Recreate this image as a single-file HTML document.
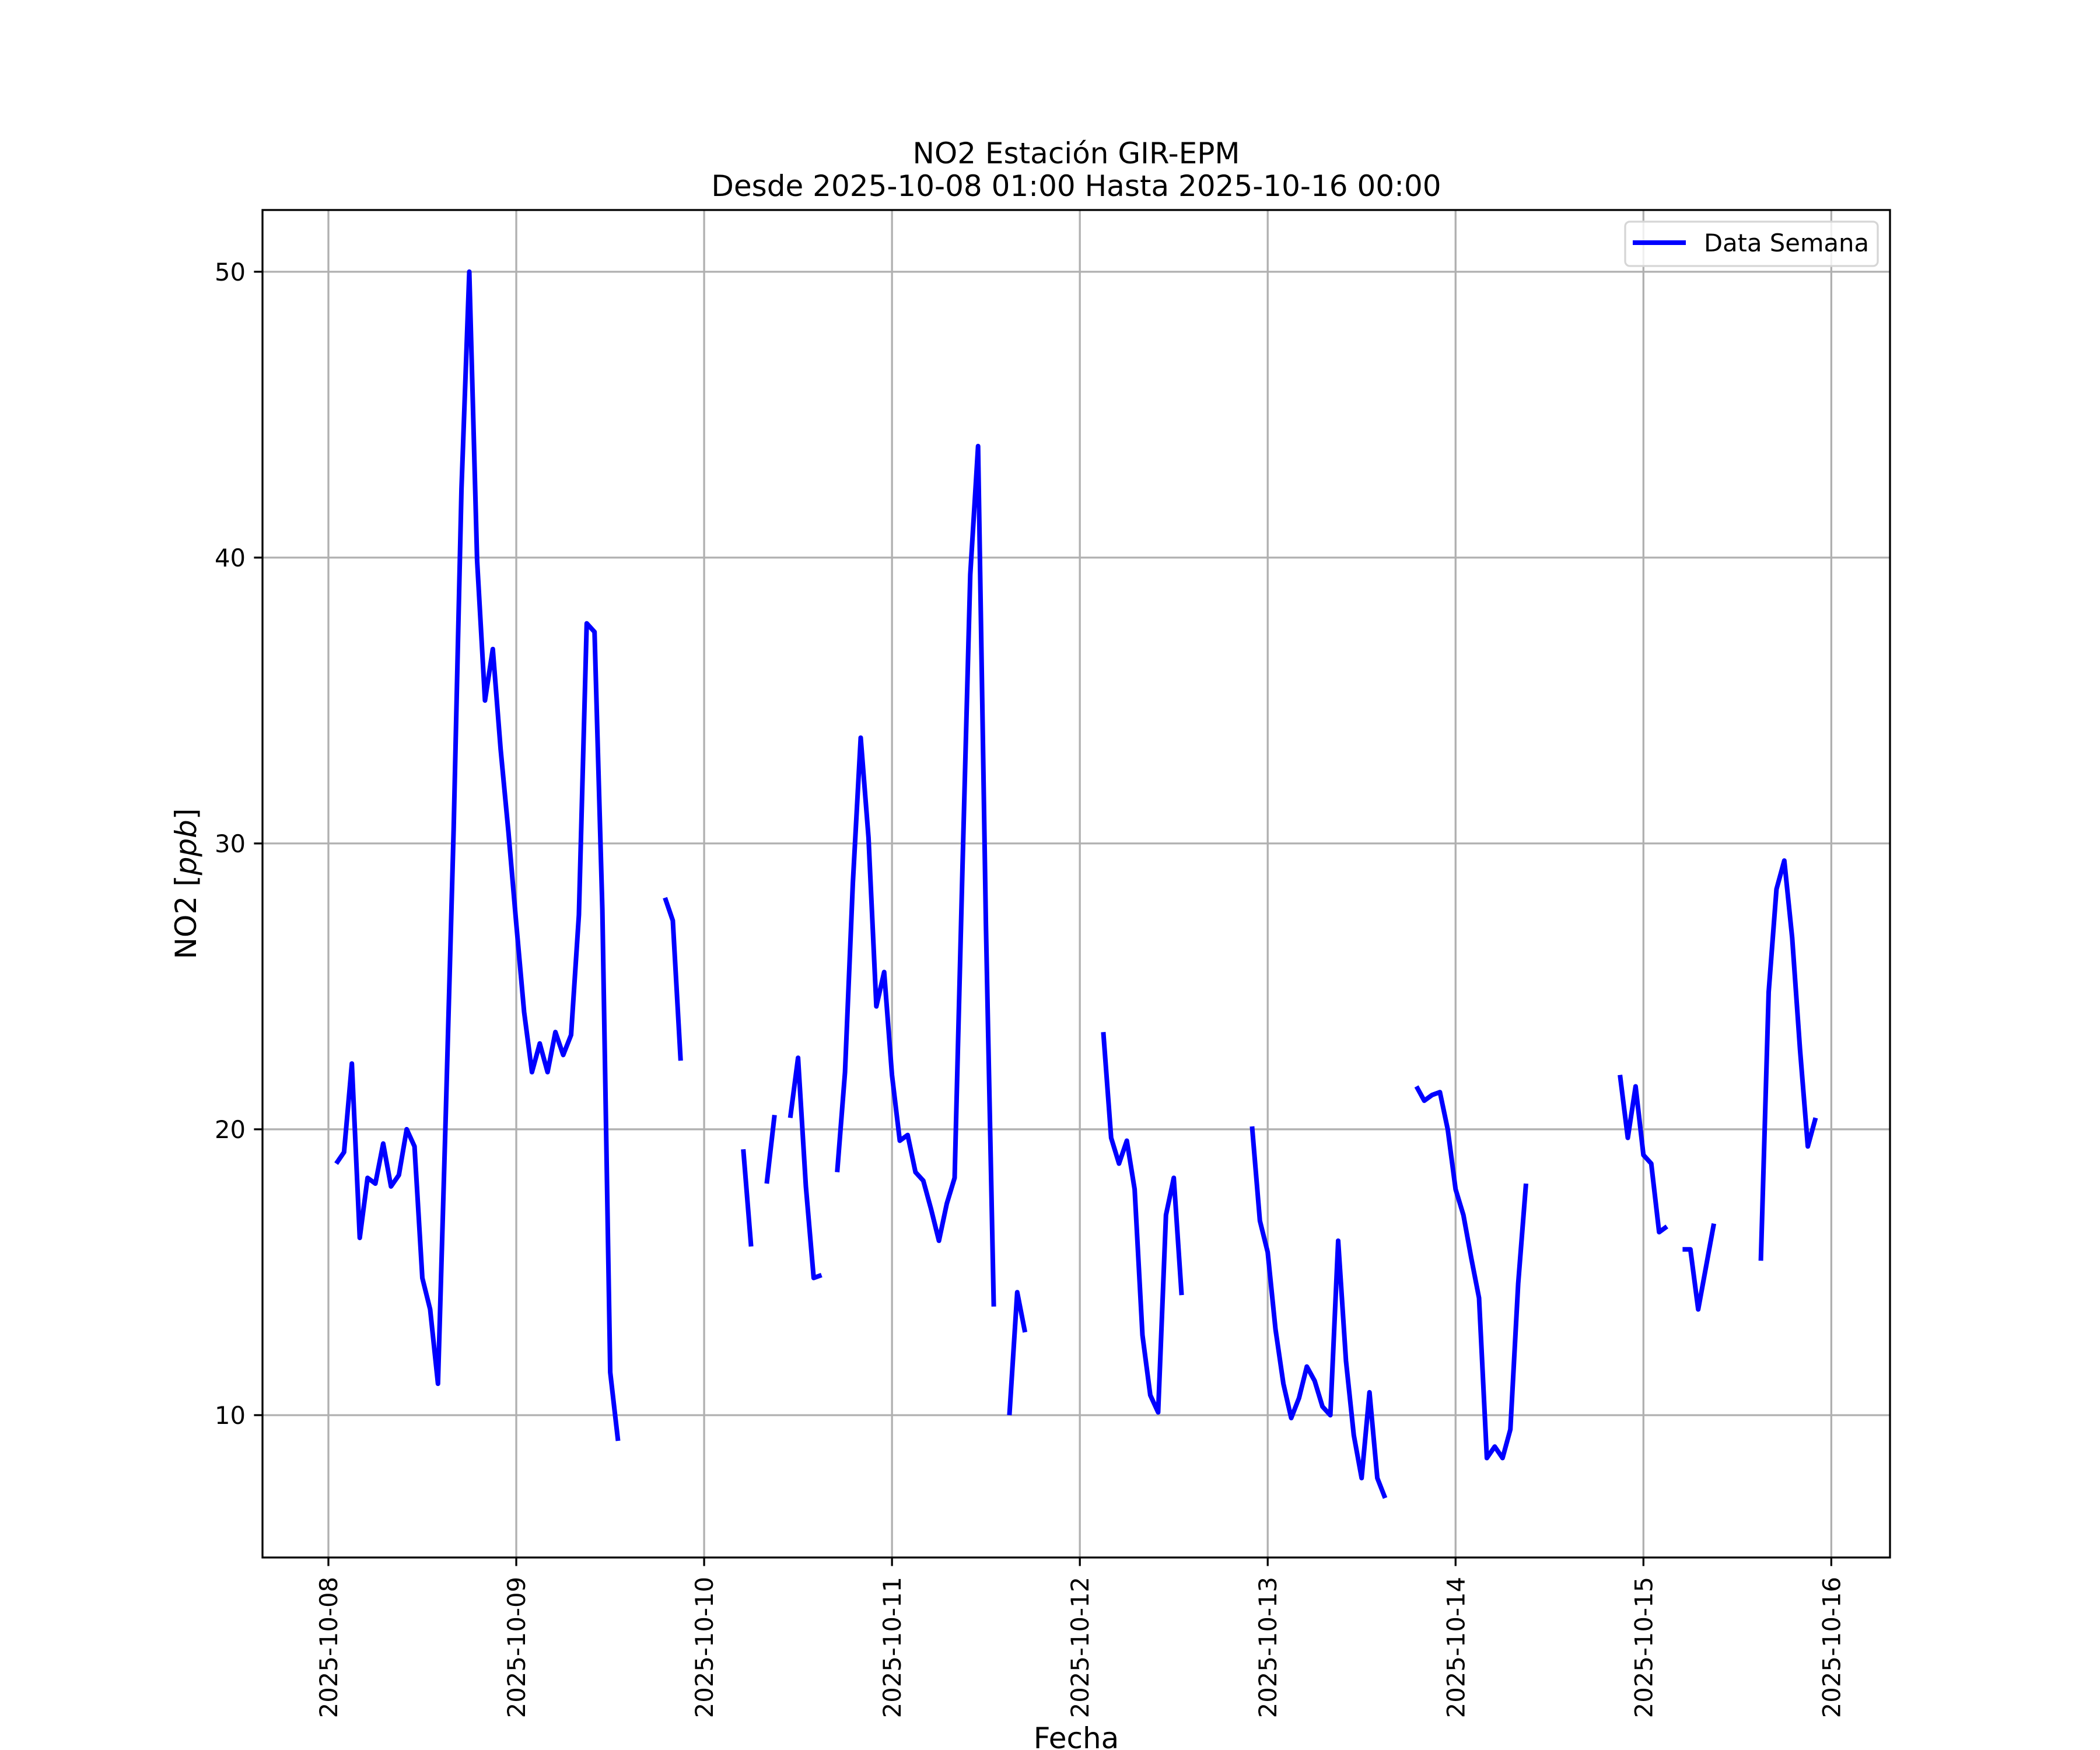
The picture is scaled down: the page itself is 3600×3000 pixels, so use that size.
<!DOCTYPE html>
<html><head><meta charset="utf-8"><style>
html,body{margin:0;padding:0;background:#fff}
svg{display:block}
text{font-family:"DejaVu Sans","Liberation Sans",sans-serif;fill:#000}
</style></head><body>
<svg id="chart" width="3600" height="3000" xmlns="http://www.w3.org/2000/svg">
<rect width="3600" height="3000" fill="#fff"/>
<g id="grid"></g><g id="series"></g><g id="axes"></g>
<text x="1845" y="280" font-size="50" text-anchor="middle">NO2 Estación GIR-EPM</text>
<text x="1845" y="336" font-size="50" text-anchor="middle">Desde 2025-10-08 01:00 Hasta 2025-10-16 00:00</text>
<text x="1845" y="2997" font-size="50" text-anchor="middle">Fecha</text>
<text transform="translate(336,1515) rotate(-90)" font-size="50" text-anchor="middle">NO2 [<tspan font-style="italic">ppb</tspan>]</text>
<g>
<rect x="2786" y="380" width="433" height="76" rx="8" fill="#fff" fill-opacity="0.8" stroke="#d6d6d6" stroke-width="3.3"/>
<line x1="2799" y1="416" x2="2890" y2="416" stroke="#0000ff" stroke-width="8"/>
<text x="2921" y="431" font-size="41.7">Data Semana</text>
</g>
</svg>
<script>
// hours since 2025-10-08 00:00 for first value
const startHour = 1;
const values = [18.8,19.2,22.3,16.2,18.3,18.1,19.5,18.0,18.4,20.0,19.4,14.8,13.7,11.1,20.6,30.5,42.4,50.0,39.9,35.0,36.8,33.3,30.4,27.2,
24.1,22.0,23.0,22.0,23.4,22.6,23.3,27.5,37.7,37.4,27.7,11.5,9.1,null,null,null,null,null,28.1,27.3,22.4,null,null,null,
null,null,null,null,19.3,15.9,null,18.1,20.5,null,20.4,22.5,18.0,14.8,14.9,null,18.5,22.0,28.6,33.7,30.2,24.3,25.5,21.9,
19.6,19.8,18.5,18.2,17.2,16.1,17.4,18.3,29.1,39.4,43.9,27.2,13.8,null,10.0,14.3,12.9,null,null,null,null,null,null,null,
null,null,23.4,19.7,18.8,19.6,17.9,12.8,10.7,10.1,17.0,18.3,14.2,null,null,null,null,null,null,null,null,20.1,16.8,15.7,
13.0,11.1,9.9,10.6,11.7,11.2,10.3,10.0,16.1,11.9,9.3,7.8,10.8,7.8,7.1,null,null,null,21.5,21.0,21.2,21.3,20.0,17.9,
17.0,15.5,14.1,8.5,8.9,8.5,9.5,14.6,18.1,null,null,null,null,null,null,null,null,null,null,null,21.9,19.7,21.5,19.1,
18.8,16.4,16.6,null,15.8,15.8,13.7,15.2,16.7,null,null,null,null,null,15.4,24.8,28.4,29.4,26.7,22.8,19.4,20.4];
const xTickLabels = ["2025-10-08","2025-10-09","2025-10-10","2025-10-11","2025-10-12","2025-10-13","2025-10-14","2025-10-15","2025-10-16"];
const yTicks = [10,20,30,40,50];

const L=450,R=3240,T=360,B=2670;
const xMin=-8.42, xMax=199.5, yMin=5.02, yMax=52.16;
const sx=h=>L+(h-xMin)/(xMax-xMin)*(R-L);
const sy=v=>B-(v-yMin)/(yMax-yMin)*(B-T);
const NS="http://www.w3.org/2000/svg";
function mk(tag,attrs,parent){const e=document.createElementNS(NS,tag);for(const k in attrs)e.setAttribute(k,attrs[k]);parent.appendChild(e);return e;}
const grid=document.getElementById('grid'),axes=document.getElementById('axes'),series=document.getElementById('series');

xTickLabels.forEach((lab,i)=>{
  const x=sx(i*24);
  const g=mk('line',{x1:x,y1:T,x2:x,y2:B,stroke:'#b0b0b0','stroke-width':3.3},grid);
  
  
  const t=mk('line',{x1:x,y1:B,x2:x,y2:B+14.6,stroke:'#000','stroke-width':3.3},axes);
  
  
  const tx=mk('text',{transform:`translate(${x+15},${B+33}) rotate(-90)`,'font-size':41.7,'text-anchor':'end'},axes);
  tx.textContent=lab;
  
  
});
yTicks.forEach(v=>{
  const y=sy(v);
  const g=mk('line',{x1:L,y1:y,x2:R,y2:y,stroke:'#b0b0b0','stroke-width':3.3},grid);
  
  
  const t=mk('line',{x1:L-14.6,y1:y,x2:L,y2:y,stroke:'#000','stroke-width':3.3},axes);
  
  
  const tx=mk('text',{x:L-29,y:y+15,'font-size':41.7,'text-anchor':'end'},axes);
  tx.textContent=String(v);
  
  
});
const frame=mk('rect',{x:L,y:T,width:R-L,height:B-T,fill:'none',stroke:'#000','stroke-width':3.3},axes);



let seg=[];
const flush=()=>{
  if(seg.length>1){
    const p=mk('polyline',{points:seg.join(' '),fill:'none',stroke:'#0000ff','stroke-width':8,'stroke-linejoin':'round','stroke-linecap':'butt'},series);
    
    
  }
  seg=[];
};
values.forEach((v,i)=>{
  if(v===null){flush();return;}
  seg.push(sx(startHour+i).toFixed(1)+','+sy(v).toFixed(1));
});
flush();
</script>
</body></html>
